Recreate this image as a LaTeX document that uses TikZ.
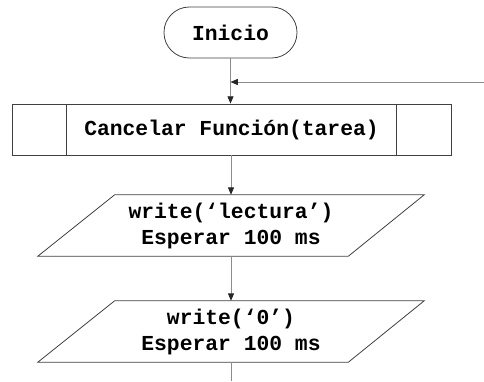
\documentclass[tikz,border=0pt]{standalone}
\usepackage{fontspec}
\newfontfamily\codefont{Liberation Mono}
\usetikzlibrary{arrows.meta,calc}
\begin{document}
\begin{tikzpicture}[x=0.75pt,y=-0.75pt,
  outline/.style={draw=black!75,line width=0.6pt},
  link/.style={draw=black!45,line width=0.6pt},
  flow/.style={link,-{Triangle[length=5.5pt,width=4.5pt,color=black!85]}},
  codetxt/.style={font=\codefont\bfseries\fontsize{16}{19.5}\selectfont,align=center,text=black},
]
\useasboundingbox (0,0) rectangle (484,381);

% start terminal
\node[outline,codetxt,rounded corners=19pt,minimum width=99.75pt,minimum height=38.25pt,inner sep=0pt]
  (start) at (230.5,32.5) {Inicio};

% predefined process (subroutine) box
\node[outline,codetxt,minimum width=329.25pt,minimum height=38.25pt,inner sep=0pt]
  (cancel) at (231.5,129.5) {Cancelar Función(tarea)};
\draw[outline] ($(cancel.north west)+(55,0)$) -- ($(cancel.south west)+(55,0)$);
\draw[outline] ($(cancel.north east)+(-55,0)$) -- ($(cancel.south east)+(-55,0)$);

% input/output parallelograms
\node[codetxt,minimum width=289.5pt,minimum height=45.75pt,inner sep=0pt]
  (readio) at (231,225.5) {write(‘lectura’)\\ Esperar 100 ms};
\draw[outline] ($(readio.north west)+(77,0)$) -- (readio.north east)
  -- ($(readio.south east)+(-76,0)$) -- (readio.south west) -- cycle;

\node[codetxt,minimum width=289.5pt,minimum height=45.75pt,inner sep=0pt]
  (zeroio) at (231,331.5) {write(‘0’)\\ Esperar 100 ms};
\draw[outline] ($(zeroio.north west)+(77,0)$) -- (zeroio.north east)
  -- ($(zeroio.south east)+(-76,0)$) -- (zeroio.south west) -- cycle;

% connectors
\coordinate (loopin) at (484,82);
\coordinate (exit) at (231,381);
\draw[flow] (start.south) -- (start.south |- cancel.north);
\draw[flow] (loopin) -- (loopin -| start.south);
\draw[flow] (cancel.south -| readio.north) -- (readio.north);
\draw[flow] (readio.south) -- (zeroio.north);
\draw[link] (zeroio.south) -- (exit);
\end{tikzpicture}
\end{document}
